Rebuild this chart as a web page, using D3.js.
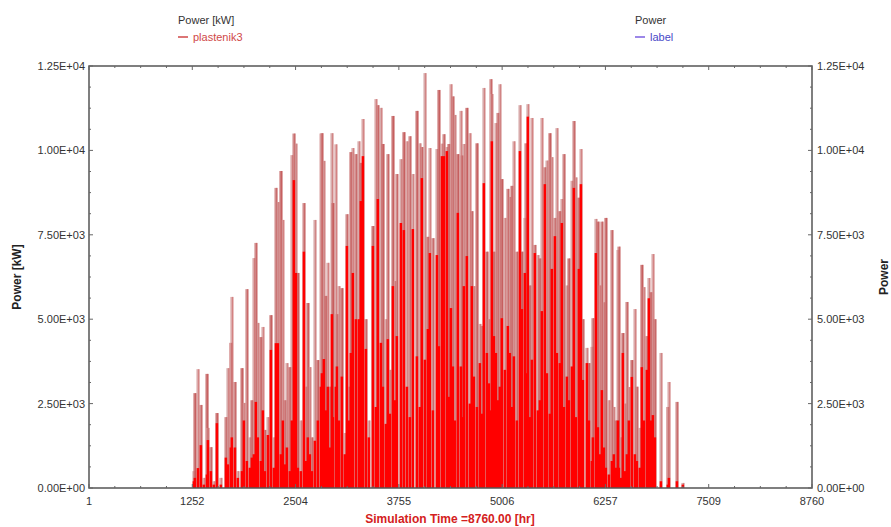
<!DOCTYPE html>
<html><head><meta charset="utf-8">
<script src="https://cdn.jsdelivr.net/npm/d3@7"></script>
<style>
body{margin:0;background:#fff;}
text{font-family:"Liberation Sans",Arial,sans-serif;}
</style></head>
<body><svg id="c" width="891" height="527"></svg>
<script>
// ---- data ----
const xTicks = [1, 1252, 2504, 3755, 5006, 6257, 7509, 8760];
const yTicks = [0, 2500, 5000, 7500, 10000, 12500];
const yTickLabels = ["0.00E+00","2.50E+03","5.00E+03","7.50E+03","1.00E+04","1.25E+04"];
// hour of each daily spike
const spikeHour = [1272,1284,1321,1357,1393,1430,1442,1478,1514,1551,1599,1660,1684,1720,1732,1769,1805,1854,1878,1914,1951,1975,1999,2023,2047,2084,2108,2132,2169,2205,2241,2266,2290,2326,2350,2375,2399,2435,2459,2484,2508,2532,2568,2605,2629,2653,2677,2702,2738,2774,2811,
2823,2847,2871,2895,2920,2944,2956,2992,3005,3029,3065,3101,3126,3150,3174,3198,3235,3271,3295,3320,3356,3392,3441,3477,3501,3538,3562,3598,3622,3647,3683,3707,3731,3780,3816,3853,3889,3925,3974,4010,4034,4071,4107,4131,4168,4216,4240,4277,4301,4337,4361,4386,4410,4434,
4470,4507,4519,4543,4579,4616,4640,4664,4701,4737,4761,4785,4822,4846,4870,4882,4907,4931,4955,4979,5003,5040,5076,5100,5125,5149,5185,5222,5246,5282,5294,5318,5343,5367,5403,5440,5464,5488,5524,5549,5585,5609,5646,5670,5706,5730,5755,5791,5815,5852,5876,5900,5936,5961,5985,6033,6058,
6094,6106,6142,6167,6191,6215,6239,6263,6300,6336,6360,6385,6409,6421,6445,6469,6494,6518,6542,6578,6615,6639,6675,6699,6724,6760,6784,6809,6833,6857,6930,7014,7027,7124,7196];
// daily peak power [kW]
const spikePeak = [500,2810,3520,2460,300,3380,1780,1210,200,2220,300,2100,3550,4300,5660,3140,500,3550,2520,5890,1500,2600,6810,7260,4890,4470,4770,1720,2100,5120,1500,8890,8470,9390,7940,2600,3700,3580,9860,10500,10200,6370,2000,8440,3000,5480,3580,1500,7940,3790,10500,
10510,9690,5690,6670,3000,10510,8440,10180,5150,5980,5920,1630,8110,3000,9950,10070,9890,10270,9630,10930,5000,2000,7760,11520,11340,11260,10190,5000,9890,3500,11020,6130,9300,9740,10540,10270,10420,9300,11170,10210,10100,12290,7440,10070,7400,10040,11790,10200,10480,10100,10190,11960,11600,11050,
9890,11170,9850,10190,11260,10510,8200,5980,10210,4860,4800,11850,7000,5000,12110,11670,7000,10810,11110,11960,9150,8000,8860,8620,8950,10270,7000,11340,7000,8000,10210,11370,6000,10960,7200,6900,6800,10960,9500,9700,10510,9800,8000,10660,8200,8560,9890,6000,6800,9100,10870,9200,8600,10040,5000,4150,3700,
4180,5030,7970,7890,6000,7890,5500,8000,2600,7640,2400,2000,7050,7150,1500,4590,2500,5510,2990,3790,5300,3000,1780,6610,5950,4500,6220,5800,6930,5000,4000,2400,3140,2550,150];
// solid-red portion of each spike [kW]
const spikeRed = [200,300,590,1270,100,400,1420,500,100,1920,100,900,700,1200,1500,1200,300,500,2000,800,600,900,1000,2550,1500,800,2300,500,1570,4090,600,4290,4290,1000,2000,700,1200,500,2000,9120,6370,600,500,7000,800,1500,1000,500,1400,2000,3000,
3400,3820,2300,3000,1200,5150,2100,3000,3600,2000,3300,1000,7170,2000,4000,6370,5000,5000,8500,9830,4120,1500,7170,2400,8560,4300,3000,1900,4410,2200,5980,2600,4500,7850,7640,3000,2100,7670,3900,2400,9180,3800,4710,6960,2300,6900,4200,9830,9830,9980,2700,5330,3600,2000,
8150,3600,2100,5980,6870,2500,5980,3300,2400,3700,2200,9030,4000,3100,2300,10270,4500,4000,2600,3000,5030,3500,4800,4000,2400,3900,2000,9980,5300,6370,3400,11000,2100,3800,6960,2300,2600,5240,9000,3400,2200,6490,7460,4000,3700,7850,2400,3300,2600,3600,8890,2100,6490,9000,3200,3700,2000,
800,1500,6960,1800,1000,2900,1200,600,400,800,1000,600,2000,600,300,4000,500,1000,2000,3290,1000,800,600,3580,2000,3500,5620,2000,2160,1500,200,100,300,200,100];
const legendLeft = {title:"Power [kW]", name:"plastenik3"};
const legendRight = {title:"Power", name:"label"};
const xTitle = "Simulation Time =8760.00 [hr]";

// ---- drawing ----
const svg = d3.select("#c");
const L=89, R=812, T=66, B=488;
const x = d3.scaleLinear().domain([1,8760]).range([L,R]);
const y = d3.scaleLinear().domain([0,12500]).range([B,T]);
const spikes = spikeHour.map((h,i)=>({h, p:spikePeak[i], r:spikeRed[i], i}));
const pinks = ["#d8abab","#cd7a7a","#dcaaaa","#d28e8e"];

const g = svg.append("g");
g.selectAll("rect.pk").data(spikes).enter().append("rect")
  .attr("x", d=>x(d.h)-1.5).attr("width",3)
  .attr("y", d=>y(d.p)).attr("height", d=>B-y(d.p))
  .attr("fill", d=>pinks[d.i%4]);
g.selectAll("line.dk").data(spikes).enter().append("line")
  .attr("x1", d=>x(d.h)+0.9).attr("x2", d=>x(d.h)+0.9)
  .attr("y1", d=>y(d.p)).attr("y2", B)
  .attr("stroke", d=> d.i%2 ? "#c24c4c" : "#cc6464").attr("stroke-width",0.8);
g.selectAll("rect.rd").data(spikes).enter().append("rect")
  .attr("x", d=>x(d.h)-1.3).attr("width",2.5)
  .attr("y", d=>y(d.r)).attr("height", d=>B-y(d.r))
  .attr("fill","#ff0000");

// frame
svg.append("rect").attr("x",L).attr("y",T).attr("width",R-L).attr("height",B-T)
  .attr("fill","none").attr("stroke","#555").attr("stroke-width",1.5);

// minor ticks
const xMinor = d3.range(0,29).map(k=>1+k*(8759/28));
const yMinor = d3.range(0,21).map(k=>k*625);
const tk = svg.append("g").attr("stroke","#666").attr("stroke-width",1);
xMinor.forEach(v=>{
  const big = xTicks.some(t=>Math.abs(t-v)<2);
  const len = big?4:2;
  tk.append("line").attr("x1",x(v)).attr("x2",x(v)).attr("y1",B).attr("y2",B-len);
  tk.append("line").attr("x1",x(v)).attr("x2",x(v)).attr("y1",T).attr("y2",T+len);
});
yMinor.forEach(v=>{
  const big = v%2500===0; const len=big?4:2;
  tk.append("line").attr("x1",L).attr("x2",L+len).attr("y1",y(v)).attr("y2",y(v));
  tk.append("line").attr("x1",R).attr("x2",R-len).attr("y1",y(v)).attr("y2",y(v));
});

// tick labels
const lab = svg.append("g").attr("font-size",11).attr("fill","#333");
xTicks.forEach(v=>lab.append("text").attr("x",x(v)).attr("y",505).attr("text-anchor","middle").text(v));
yTicks.forEach((v,i)=>{
  lab.append("text").attr("x",L-4).attr("y",y(v)+4).attr("text-anchor","end").text(yTickLabels[i]);
  lab.append("text").attr("x",R+5).attr("y",y(v)+4).attr("text-anchor","start").text(yTickLabels[i]);
});

// axis titles
svg.append("text").attr("transform",`translate(21,${(T+B)/2}) rotate(-90)`)
  .attr("text-anchor","middle").attr("font-size",12).attr("font-weight","bold").attr("fill","#222").text(legendLeft.title);
svg.append("text").attr("transform",`translate(888,${(T+B)/2}) rotate(-90)`)
  .attr("text-anchor","middle").attr("font-size",12).attr("font-weight","bold").attr("fill","#222").text(legendRight.title);
svg.append("text").attr("x",450).attr("y",523).attr("text-anchor","middle")
  .attr("font-size",12).attr("font-weight","bold").attr("fill","#d42020").text(xTitle);

// legends
function legend(x0, info, lineColor, textColor){
  svg.append("text").attr("x",x0).attr("y",24).attr("font-size",11).attr("fill","#333").text(info.title);
  svg.append("line").attr("x1",x0).attr("x2",x0+10).attr("y1",37).attr("y2",37).attr("stroke",lineColor).attr("stroke-width",1.5);
  svg.append("text").attr("x",x0+15).attr("y",41).attr("font-size",11).attr("fill",textColor).text(info.name);
}
legend(178, legendLeft, "#d04848", "#d04848");
legend(635, legendRight, "#7b5fe0", "#4848c8");
</script></body></html>
